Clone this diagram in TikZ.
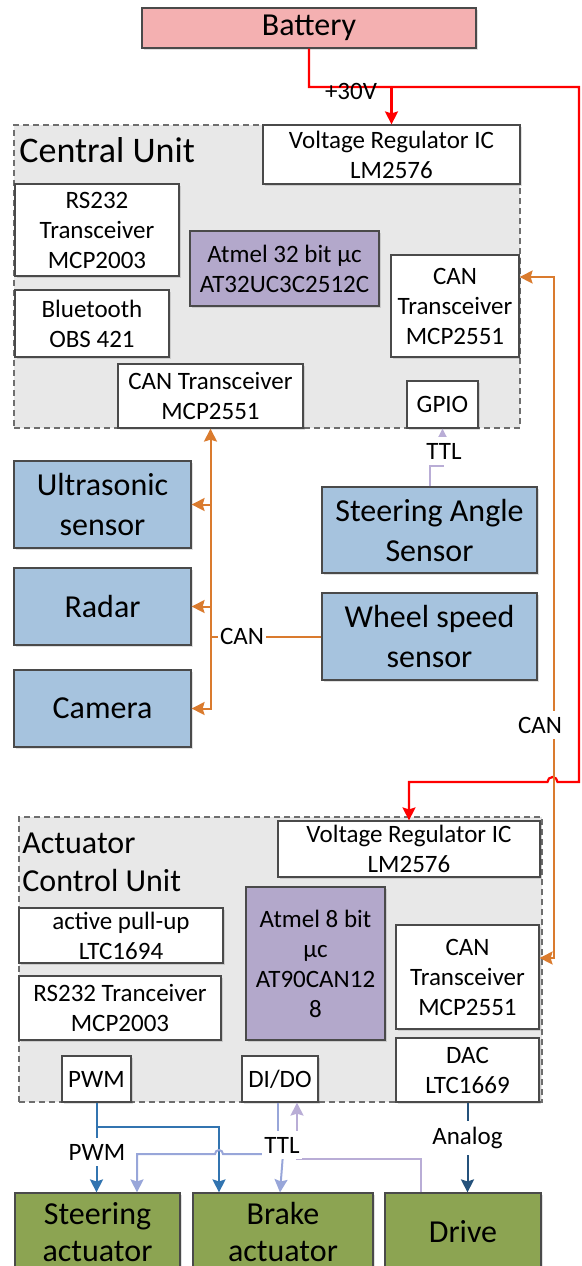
\documentclass[tikz,border=0pt]{standalone}
\usepackage{fontspec}
\setmainfont{Carlito}
\usetikzlibrary{arrows.meta, calc, positioning, shadows}
\definecolor{batfill}{HTML}{F4B0B1}
\definecolor{unitbg}{HTML}{E8E8E8}
\definecolor{mcufill}{HTML}{B3A8CB}
\definecolor{sensfill}{HTML}{A6C3DE}
\definecolor{actfill}{HTML}{8CA452}
\definecolor{canline}{HTML}{DA7B2E}
\definecolor{ttlline}{HTML}{B9ADD6}
\definecolor{ttlblue}{HTML}{98A6D9}
\definecolor{pwmline}{HTML}{3274B0}
\definecolor{analine}{HTML}{24517B}
\definecolor{edge}{HTML}{4A4A4A}

\begin{document}
\begin{tikzpicture}[
    x=0.5pt, y=-0.5pt,
    >={Stealth[inset=1pt, length=6.5pt, width=6.5pt]},
    every node/.style={inner sep=0pt, align=center},
    bigtxt/.style={font=\fontsize{16}{20}\selectfont},
    smalltxt/.style={font=\fontsize{12.5}{15}\selectfont},
    lbl/.style={font=\fontsize{12.5}{15}\selectfont, fill=white, inner xsep=1pt, inner ysep=3pt},
    blk/.style={draw=edge, line width=0.6pt,
        drop shadow={shadow xshift=1.2pt, shadow yshift=-1.2pt, fill=black, opacity=0.12}},
    wbox/.style={blk, fill=white, smalltxt},
    mcu/.style={blk, fill=mcufill, smalltxt},
    sens/.style={blk, fill=sensfill, bigtxt},
    act/.style={blk, fill=actfill, font=\fontsize{16}{18.5}\selectfont},
    unitbox/.style={draw=edge!80, dash pattern=on 3pt off 2pt, fill=unitbg, line width=0.6pt},
    pwr/.style={draw=red, line width=1.1pt},
    can/.style={draw=canline, line width=1pt},
    ttl/.style={draw=ttlline, line width=1pt},
    ttlb/.style={draw=ttlblue, line width=1pt},
    pwm/.style={draw=pwmline, line width=1pt},
    ana/.style={draw=analine, line width=1pt},
]
\useasboundingbox (0,0) rectangle (582,1266);
\clip (0,0) rectangle (582,1266);
% battery
\node[blk, fill=batfill, bigtxt, minimum width=167pt, minimum height=20pt] (bat) at (309,28) {Battery};
% central unit
\node[unitbox, minimum width=253pt, minimum height=151.5pt] (cu) at (267,276.5) {};
\node[font=\fontsize{18}{20}\selectfont, anchor=west] (cutitle) at (19,150) {Central Unit};
\node[wbox, minimum width=128.5pt, minimum height=29.5pt] (cuvr) at (391.5,154.5) {Voltage Regulator IC\\LM2576};
\node[wbox, minimum width=82pt, minimum height=46pt] (rs) at (97,230) {RS232\\Transceiver\\MCP2003};
\node[mcu, minimum width=94.5pt, minimum height=37.5pt] (mcu32) at (284.5,268.5) {Atmel 32 bit µc\\AT32UC3C2512C};
\node[wbox, minimum width=64pt, minimum height=51pt] (cancr) at (455,306) {CAN\\Transceiver\\MCP2551};
\node[wbox, minimum width=77pt, minimum height=33.5pt] (bt) at (92,323.5) {Bluetooth\\OBS 421};
\node[wbox, minimum width=92.5pt, minimum height=32pt] (cancb) at (210.5,396) {CAN Transceiver\\MCP2551};
\node[wbox, minimum width=35.5pt, minimum height=23.5pt] (gpio) at (442.5,404.5) {GPIO};
% sensors
\node[sens, minimum width=88.5pt, minimum height=43.5pt] (us) at (102.5,504.5) {Ultrasonic\\sensor};
\node[sens, minimum width=88.5pt, minimum height=38.5pt] (radar) at (102.5,606.5) {Radar};
\node[sens, minimum width=88.5pt, minimum height=38.5pt] (cam) at (102.5,708.5) {Camera};
\node[sens, minimum width=107.5pt, minimum height=43pt] (sas) at (429.5,530) {Steering Angle\\Sensor};
\node[sens, minimum width=107.5pt, minimum height=43.5pt] (wss) at (429.5,636.5) {Wheel speed\\sensor};
% actuator control unit
\node[unitbox, minimum width=261.5pt, minimum height=142.5pt] (acu) at (280.5,959.5) {};
\node[font=\fontsize{16}{19}\selectfont, anchor=west, align=left] (acutitle) at (22,862) {Actuator\\Control Unit};
\node[wbox, minimum width=131pt, minimum height=28pt] (acvr) at (409,849) {Voltage Regulator IC\\LM2576};
\node[mcu, minimum width=69.5pt, minimum height=76.5pt] (mcu8) at (315.5,963.5) {Atmel 8 bit\\µc\\AT90CAN12\\8};
\node[wbox, minimum width=102pt, minimum height=27.5pt] (pull) at (121,935.5) {active pull-up\\LTC1694};
\node[wbox, minimum width=101pt, minimum height=32pt] (rsb) at (120,1008) {RS232 Tranceiver\\MCP2003};
\node[wbox, minimum width=71.5pt, minimum height=52pt] (canca) at (467.5,977) {CAN\\Transceiver\\MCP2551};
\node[wbox, minimum width=34.5pt, minimum height=23pt] (pwmb) at (96.5,1079) {PWM};
\node[wbox, minimum width=38pt, minimum height=23pt] (dido) at (280,1079) {DI/DO};
\node[wbox, minimum width=71.5pt, minimum height=32pt] (dac) at (467.5,1070) {DAC\\LTC1669};
% actuators
\node[act, minimum width=82.5pt, minimum height=39pt] (stact) at (97.5,1232) {Steering\\actuator};
\node[act, minimum width=90pt, minimum height=39pt] (brake) at (283,1232) {Brake\\actuator};
\node[act, minimum width=78pt, minimum height=39pt] (drive) at (463,1232) {Drive};
% supply +30V
\coordinate (vtop) at (579,87);
\coordinate (vbot) at (579,782);
\coordinate (hop1) at (557.5,782);
\draw[pwr,->] (bat.south) |- (vtop) -- (vbot) -- (hop1)
    arc[start angle=0, end angle=180, radius=2.5pt] -- (acvr.north |- vbot) -- (acvr.north);
\draw[pwr,->] (cuvr.north |- vtop) -- (cuvr.north);
% can bus
\draw[can,<->] ([yshift=14.5pt]cancr.east) -- ++(34,0) |- ([yshift=9.5pt]canca.east);
\draw[can,<->] (cam.east) -| (cancb.south);
\draw[can,->] (us.east -| cancb.south) -- (us.east);
\draw[can,->] (radar.east -| cancb.south) -- (radar.east);
\draw[can] (wss.west) -- (wss.west -| cancb.south);
% ttl from steering angle sensor
\draw[ttl,->] (sas.north) -- ++(0,-20) -| (gpio.south);
% pwm
\coordinate (pwmj) at (96.5,1127);
\draw[pwm,->] (pwmb.south) -- (pwmb.south |- stact.north);
\draw[pwm,->] (pwmj) -| ([xshift=-32pt]brake.north);
% ttl to actuators
\coordinate (ttlj) at (278,1154);
\coordinate (hop2) at (223,1154);
\coordinate (ttlk) at (297,1159);
\draw[ttlb] ([xshift=-1pt]dido.south) -- (ttlj);
\draw[ttlb,->] (ttlj) -- (hop2) arc[start angle=0, end angle=180, radius=2pt]
    -| ([xshift=19.75pt]stact.north);
\draw[ttlb,->] (ttlj -| brake.north) -- ([xshift=-1.5pt]brake.north);
\draw[ttl,->] ([xshift=-21pt]drive.north) |- (ttlk) -- (ttlk |- dido.south);
% analog
\draw[ana,->] (dac.south) -- (dac.south |- drive.north);
% labels
\node[font=\fontsize{12.5}{15}\selectfont] (v30) at (351,91) {+30V};
\node[lbl] (canl1) at (242,636) {CAN};
\node[lbl] (canl2) at (540,725) {CAN};
\node[lbl] (ttll1) at (444,451) {TTL};
\node[lbl] (pwml) at (97,1152) {PWM};
\node[lbl] (ttll2) at (282,1145) {TTL};
\node[lbl] (anal) at (467.5,1138) {Analog};
\end{tikzpicture}
\end{document}
